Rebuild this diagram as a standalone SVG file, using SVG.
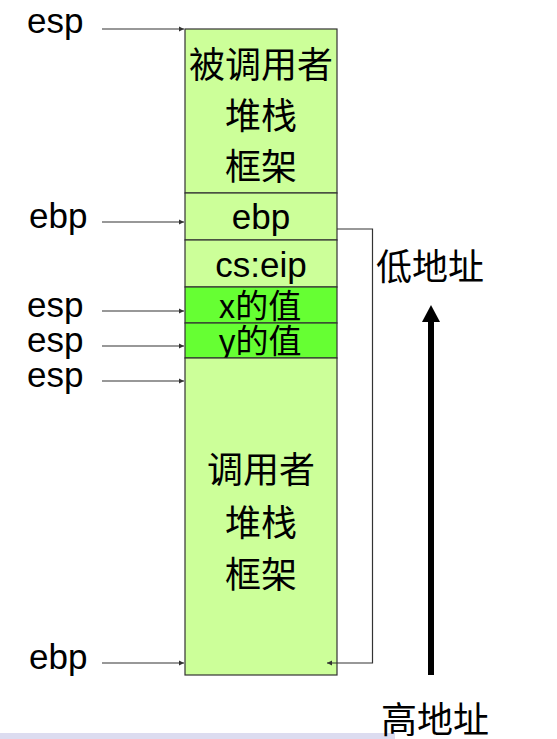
<svg xmlns="http://www.w3.org/2000/svg" width="557" height="739" viewBox="0 0 557 739">
<style>
.lbl{font-family:"Liberation Sans",Arial,sans-serif;font-size:35px;fill:#000}
.cn{font-family:"Noto Sans CJK SC","Liberation Serif",serif;font-size:36px;fill:#000}
.cn2{font-family:"Noto Sans CJK SC","Liberation Sans",sans-serif;font-size:33px;fill:#000}
.cell{stroke:#333;stroke-width:1.2}
.lg{fill:#ccff99}
.bg{fill:#66ff33}
.ptr{stroke:#333;stroke-width:1.2;fill:none;marker-end:url(#ah)}
</style>
<defs>
<marker id="ah" markerWidth="6" markerHeight="6" refX="5" refY="3" orient="auto" markerUnits="userSpaceOnUse">
<path d="M0,0.5 L5,3 L0,5.5 Z" fill="#333"/>
</marker>
</defs>
<rect width="557" height="739" fill="#fff"/>
<rect x="0" y="733" width="395" height="6" fill="#dcdcf0"/>

<g id="callee-frame"><rect class="cell lg" x="185" y="29" width="152" height="164"/>
<text class="cn" x="261" y="62" text-anchor="middle" dominant-baseline="central">被调用者</text>
<text class="cn" x="261" y="113" text-anchor="middle" dominant-baseline="central">堆栈</text>
<text class="cn" x="261" y="164" text-anchor="middle" dominant-baseline="central">框架</text></g>
<g id="saved-ebp"><rect class="cell lg" x="185" y="193" width="152" height="47"/>
<text class="lbl" x="261" y="229" text-anchor="middle">ebp</text></g>
<g id="cs-eip"><rect class="cell lg" x="185" y="240" width="152" height="47"/>
<text class="lbl" x="261" y="277" text-anchor="middle">cs:eip</text></g>
<g id="x-val"><rect class="cell bg" x="185" y="287" width="152" height="36"/>
<text class="cn2" x="260" y="304" text-anchor="middle" dominant-baseline="central">x的值</text></g>
<g id="y-val"><rect class="cell bg" x="185" y="323" width="152" height="35"/>
<text class="cn2" x="260" y="339" text-anchor="middle" dominant-baseline="central">y的值</text></g>
<g id="caller-frame"><rect class="cell lg" x="185" y="358" width="152" height="317"/>
<text class="cn" x="261" y="467" text-anchor="middle" dominant-baseline="central">调用者</text>
<text class="cn" x="261" y="520" text-anchor="middle" dominant-baseline="central">堆栈</text>
<text class="cn" x="261" y="572" text-anchor="middle" dominant-baseline="central">框架</text></g>

<g id="labels">
<text class="lbl" x="27" y="33">esp</text>
<text class="lbl" x="29" y="228">ebp</text>
<text class="lbl" x="27" y="317">esp</text>
<text class="lbl" x="27" y="352">esp</text>
<text class="lbl" x="27" y="387">esp</text>
<text class="lbl" x="29" y="669">ebp</text>
</g>

<g id="connectors">
<line class="ptr" x1="102" y1="29" x2="184" y2="29"/>
<line class="ptr" x1="102" y1="222" x2="184" y2="222"/>
<line class="ptr" x1="102" y1="311" x2="184" y2="311"/>
<line class="ptr" x1="102" y1="346" x2="184" y2="346"/>
<line class="ptr" x1="102" y1="381" x2="184" y2="381"/>
<line class="ptr" x1="102" y1="663" x2="184" y2="663"/>
<polyline class="ptr" points="337,229 372.5,229 372.5,663 327,663"/>
</g>

<g id="direction">
<rect x="428" y="320" width="6" height="355" fill="#000"/>
<path d="M431,305 L440,322 L422,322 Z" fill="#000"/>
<text class="cn" x="430" y="264" text-anchor="middle" dominant-baseline="central">低地址</text>
<text class="cn" x="435" y="717" text-anchor="middle" dominant-baseline="central">高地址</text>
</g>
</svg>
